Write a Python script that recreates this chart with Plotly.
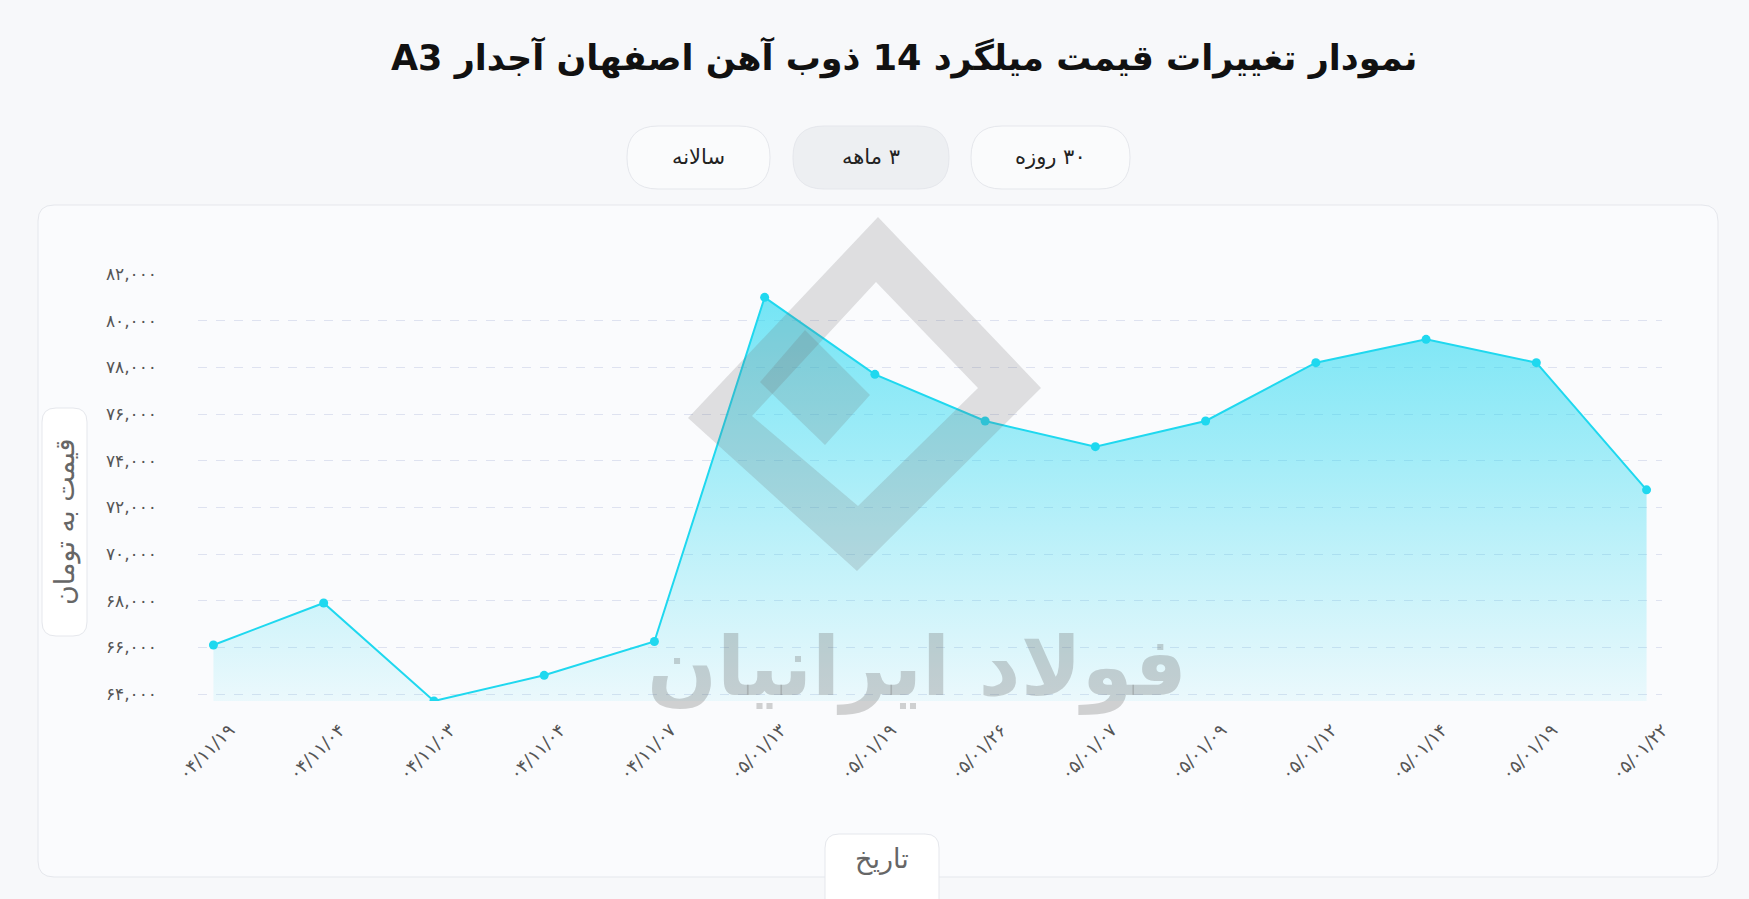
import plotly.graph_objects as go

# ---------------- data ----------------
dates = ["۰۴/۱۱/۱۹", "۰۴/۱۱/۰۴", "۰۴/۱۱/۰۳", "۰۴/۱۱/۰۴", "۰۴/۱۱/۰۷",
         "۰۵/۰۱/۱۳", "۰۵/۰۱/۱۹", "۰۵/۰۱/۲۶", "۰۵/۰۱/۰۷", "۰۵/۰۱/۰۹",
         "۰۵/۰۱/۱۲", "۰۵/۰۱/۱۴", "۰۵/۰۱/۱۹", "۰۵/۰۱/۲۲"]
prices = [66100, 67900, 63700, 64800, 66250,
          81000, 77700, 75700, 74600, 75700,
          78200, 79200, 78200, 72750]
y_tickvals = [64000, 66000, 68000, 70000, 72000, 74000, 76000, 78000, 80000, 82000]
y_ticktext = ["۶۴,۰۰۰", "۶۶,۰۰۰", "۶۸,۰۰۰", "۷۰,۰۰۰", "۷۲,۰۰۰",
              "۷۴,۰۰۰", "۷۶,۰۰۰", "۷۸,۰۰۰", "۸۰,۰۰۰", "۸۲,۰۰۰"]
title_text = "نمودار تغییرات قیمت میلگرد 14 ذوب آهن اصفهان آجدار A3"
buttons = ["سالانه", "۳ ماهه", "۳۰ روزه"]
y_title = "قیمت به تومان"
x_title = "تاریخ"
watermark = "فولاد ایرانیان"

xs = list(range(len(prices)))

# ---------------- geometry helpers (pixel -> paper) ----------------
W, H = 1749, 899
PL, PR, PT, PB = 198, 1662, 274, 701


def px(x):
    return (x - PL) / (PR - PL)


def py(y):
    return (PB - y) / (PB - PT)


def pt(x, y):
    return f"{px(x):.5f},{py(y):.5f}"


def rrect(x0, y0, x1, y1, r):
    return (f"M {pt(x0 + r, y0)} L {pt(x1 - r, y0)} Q {pt(x1, y0)} {pt(x1, y0 + r)} "
            f"L {pt(x1, y1 - r)} Q {pt(x1, y1)} {pt(x1 - r, y1)} "
            f"L {pt(x0 + r, y1)} Q {pt(x0, y1)} {pt(x0, y1 - r)} "
            f"L {pt(x0, y0 + r)} Q {pt(x0, y0)} {pt(x0 + r, y0)} Z")


def poly(points):
    return "M " + " L ".join(pt(x, y) for x, y in points) + " Z"


def rtl(s):
    # right-to-left embedding so mixed Persian / Latin text is laid out as in the page
    return "\u202B" + s + "\u202C"


FONT = "DejaVu Sans"
CYAN = "#1fd8ef"

fig = go.Figure()
fig.add_trace(go.Scatter(
    x=xs, y=prices, mode="lines+markers",
    line=dict(color=CYAN, width=2),
    marker=dict(color=CYAN, size=9),
    fill="tozeroy",
    fillgradient=dict(type="vertical", start=63700, stop=81000,
                      colorscale=[[0, "rgba(34,215,240,0.07)"],
                                  [1, "rgba(34,215,240,0.62)"]]),
    hoverinfo="skip", showlegend=False,
))

shapes = []
border = "rgb(229,231,236)"
# card
shapes.append(dict(type="path", xref="paper", yref="paper", layer="below",
                   path=rrect(38, 205, 1718, 877, 16),
                   fillcolor="rgb(250,251,253)", line=dict(color=border, width=1)))
# y title tab
shapes.append(dict(type="path", xref="paper", yref="paper", layer="below",
                   path=rrect(42, 408, 87, 636, 14),
                   fillcolor="white", line=dict(color=border, width=1)))
# x title tab
shapes.append(dict(type="path", xref="paper", yref="paper", layer="below",
                   path=rrect(825, 834, 939, 915, 14),
                   fillcolor="white", line=dict(color=border, width=1)))
# buttons
btn_boxes = [(627, 770, "rgb(250,251,252)"), (793, 949, "rgb(237,239,242)"),
             (971, 1130, "rgb(250,251,252)")]
for x0, x1, fc in btn_boxes:
    shapes.append(dict(type="path", xref="paper", yref="paper", layer="below",
                       path=rrect(x0, 126, x1, 189, 31),
                       fillcolor=fc, line=dict(color=border, width=1)))

# watermark logo (approximation)
logo_fill = "rgba(110,110,110,0.20)"
ring = poly([(878, 217), (1041, 388), (857, 571), (688, 418)])
hole = poly([(858, 506), (752, 416), (876, 282), (978, 388)])
shapes.append(dict(type="path", xref="paper", yref="paper", layer="above",
                   path=ring + " " + hole, fillcolor=logo_fill, line=dict(width=0)))
shapes.append(dict(type="path", xref="paper", yref="paper", layer="above",
                   path=poly([(805, 330), (870, 395), (825, 445), (760, 382)]),
                   fillcolor=logo_fill, line=dict(width=0)))
fig.update_layout(shapes=shapes)

annotations = [
    dict(text=rtl(title_text), x=px(904), y=py(57), xref="paper", yref="paper",
         showarrow=False, font=dict(family=FONT, size=35, color="#111111", weight="bold"),
         xanchor="center", yanchor="middle"),
    dict(text=y_title, x=px(65), y=py(522), xref="paper", yref="paper", textangle=-90,
         showarrow=False, font=dict(family=FONT, size=27, color="#666666"),
         xanchor="center", yanchor="middle"),
    dict(text=x_title, x=px(882), y=py(859), xref="paper", yref="paper",
         showarrow=False, font=dict(family=FONT, size=27, color="#666666"),
         xanchor="center", yanchor="middle"),
    dict(text=watermark, x=px(917), y=py(667), xref="paper", yref="paper",
         showarrow=False, font=dict(family=FONT, size=82, color="rgba(110,110,110,0.30)", weight="bold"),
         xanchor="center", yanchor="middle"),
]
for (x0, x1, _), label in zip(btn_boxes, buttons):
    annotations.append(dict(text=rtl(label), x=px((x0 + x1) / 2), y=py(157),
                            xref="paper", yref="paper",
                            showarrow=False, font=dict(family=FONT, size=21, color="#222222"),
                            xanchor="center", yanchor="middle"))
fig.update_layout(annotations=annotations)

fig.update_layout(
    width=W, height=H,
    margin=dict(l=PL, r=W - PR, t=PT, b=H - PB, autoexpand=False),
    paper_bgcolor="rgb(247,248,250)",
    plot_bgcolor="rgba(0,0,0,0)",
    font=dict(family=FONT, color="#555555"),
    xaxis=dict(range=[-0.14, 13.14], tickmode="array", tickvals=xs, ticktext=dates,
               tickangle=-45, tickfont=dict(family=FONT, size=18, color="#555555"),
               showgrid=False, zeroline=False, showline=False, ticks="",
               ticklabelstandoff=14, ticklabelshift=16, automargin=False, fixedrange=True),
    yaxis=dict(range=[63700, 82000], tickmode="array", tickvals=y_tickvals, ticktext=y_ticktext,
               tickfont=dict(family=FONT, size=17, color="#555555"),
               showgrid=True, gridcolor="rgb(222,226,240)", griddash="dash", gridwidth=1,
               zeroline=False, showline=False, ticks="",
               ticklabelstandoff=40, automargin=False, fixedrange=True),
)

fig.write_html("out.html", config={"displayModeBar": False})
